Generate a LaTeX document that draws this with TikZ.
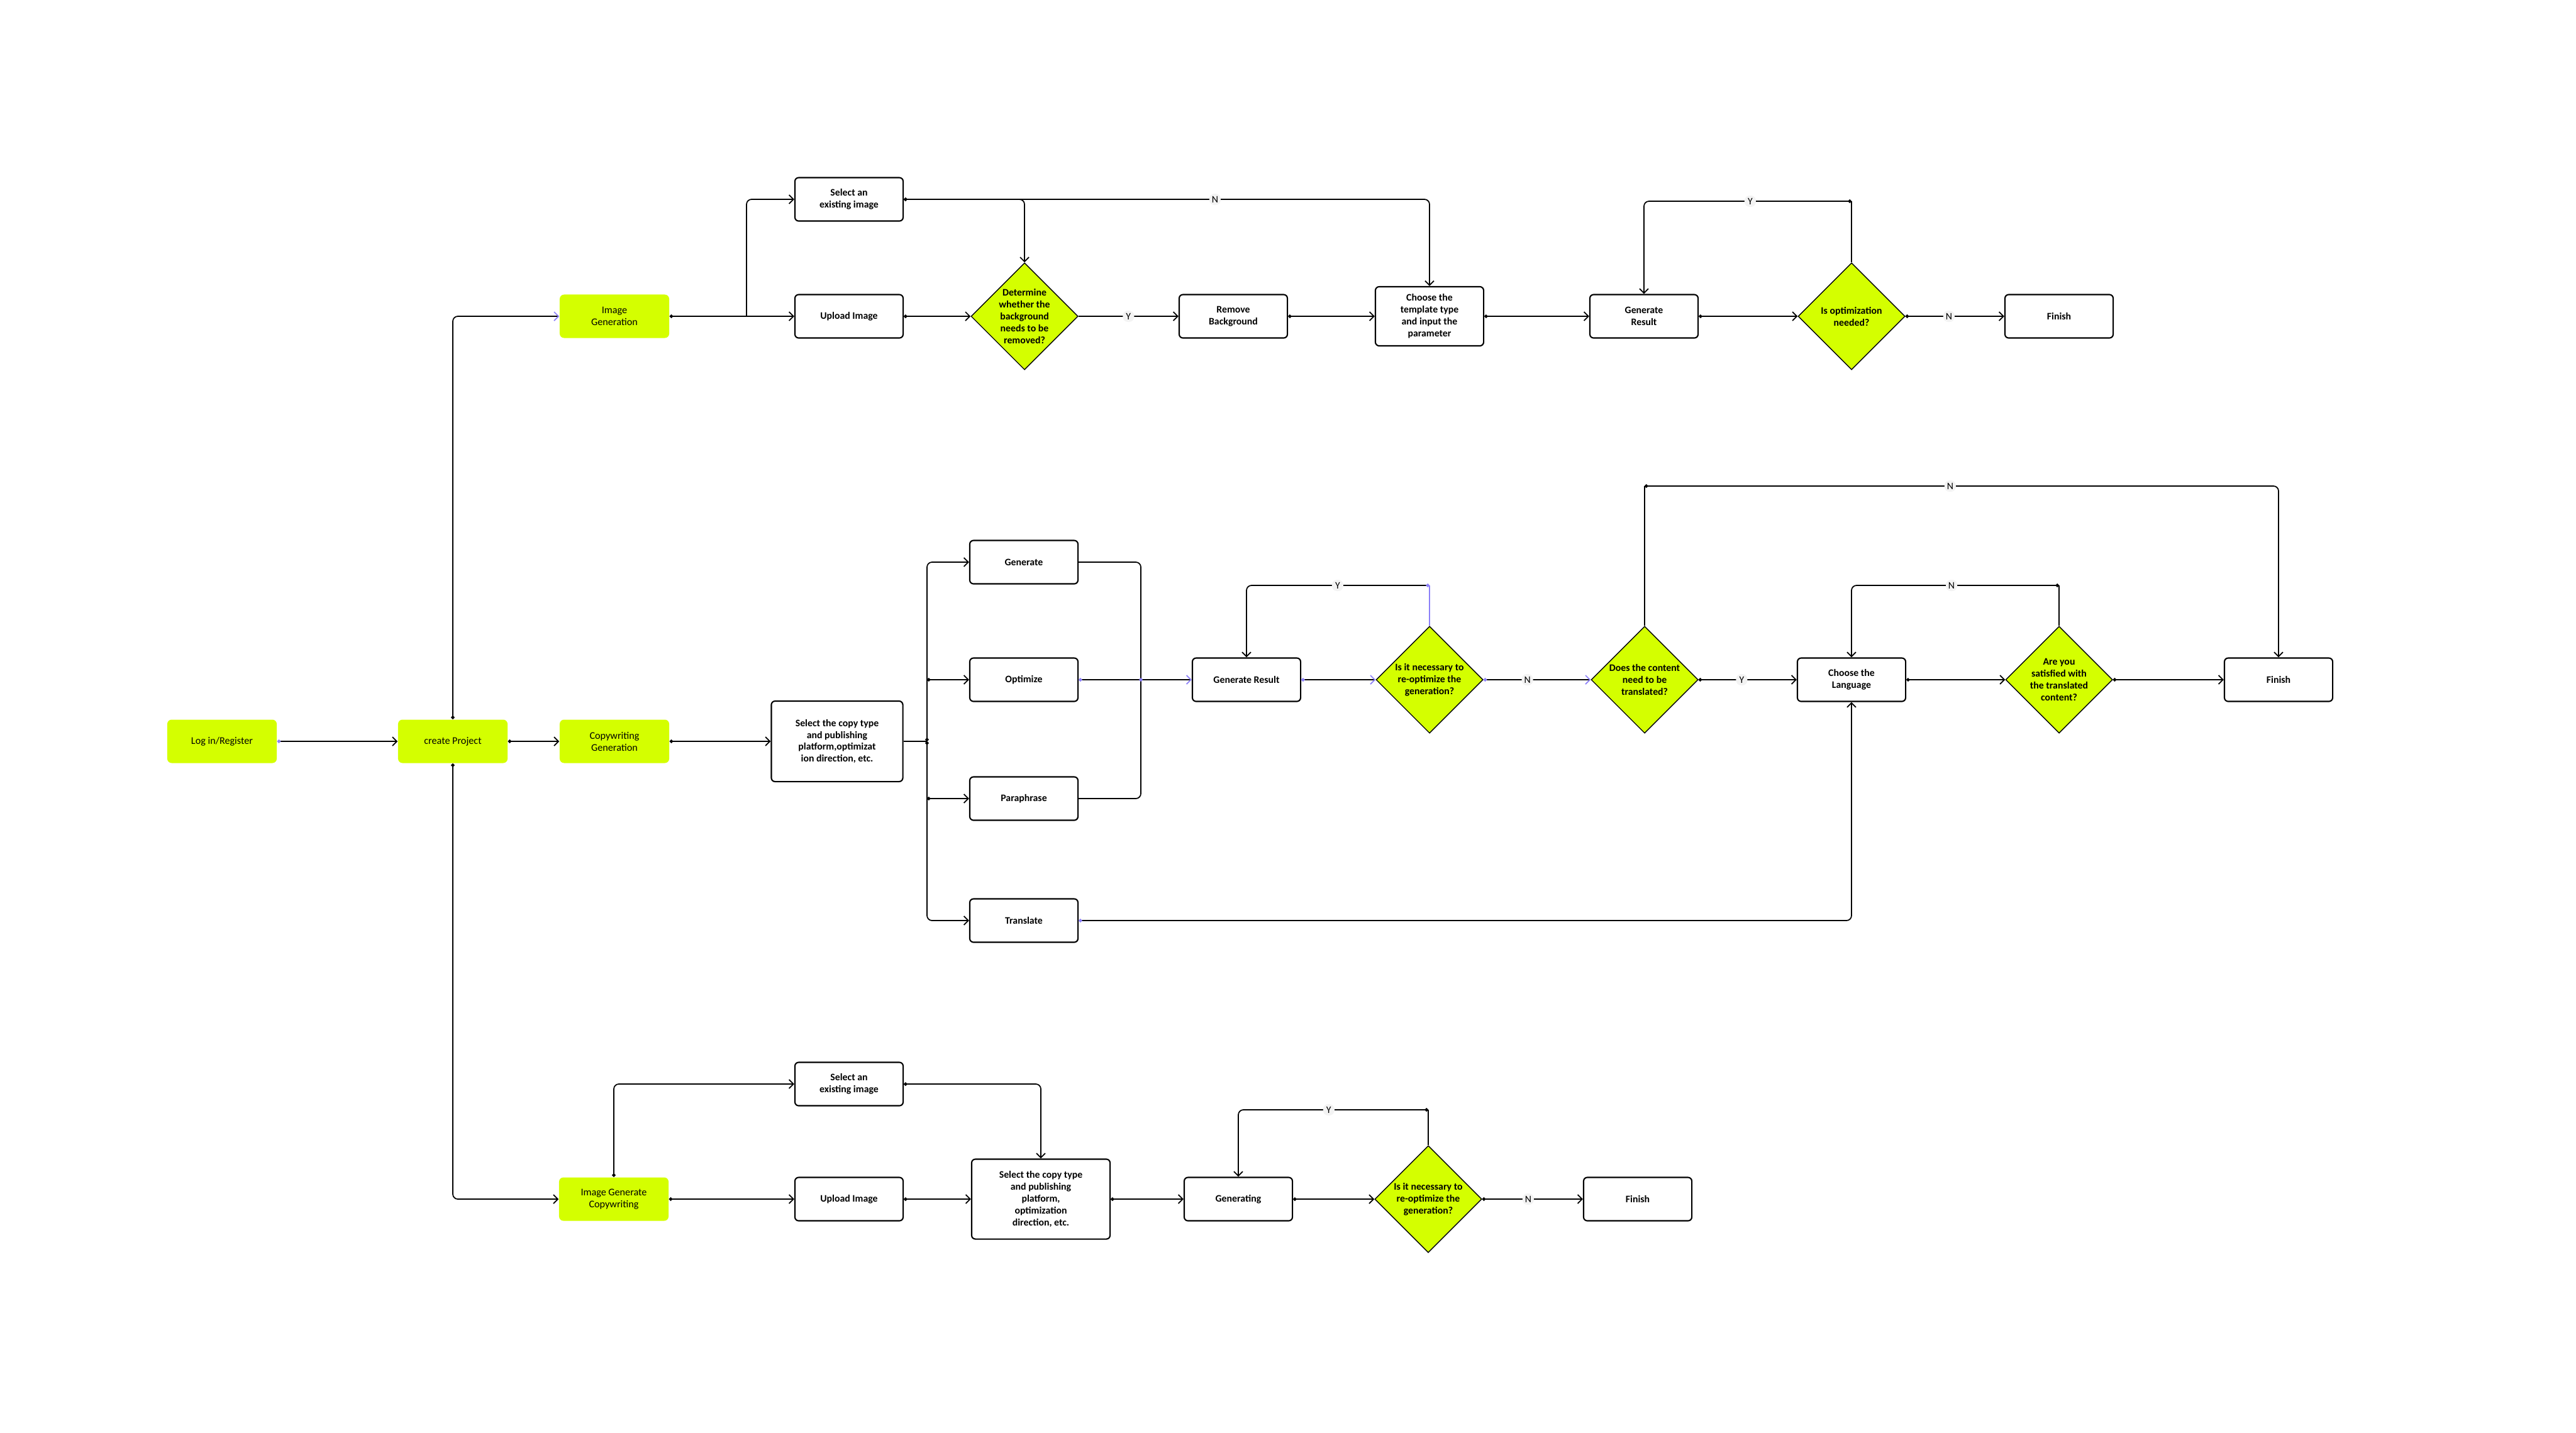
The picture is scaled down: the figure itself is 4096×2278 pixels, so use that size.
\documentclass[tikz,border=0pt]{standalone}
\usepackage{fontspec}
\setmainfont{Carlito}
\usetikzlibrary{arrows.meta,shapes.geometric,calc}
\definecolor{lime}{RGB}{212,255,0}
\definecolor{lav}{RGB}{140,128,248}
\definecolor{lblbg}{RGB}{243,243,243}
\tikzset{
  >={Straight Barb[length=0.07cm,width=0.14cm]},
  ln/.style={line width=0.5pt, rounded corners=0.08cm},
  conn/.style={ln, {Circle[length=0.055cm]}->},
  pdot/.style={ln, {Circle[length=0.055cm,color=lav]}->},
  parr/.style={ln, {Circle[length=0.055cm,color=lav]}-{Straight Barb[length=0.07cm,width=0.14cm,color=lav]}},
  thinln/.style={line width=0.35pt},
  box/.style={draw, line width=0.6pt, rounded corners=0.06cm, fill=white,
    minimum width=1.72cm, minimum height=0.69cm, align=center, inner sep=0pt,
    font=\fontsize{4.5}{5.4}\selectfont\bfseries},
  gbox/.style={fill=lime, rounded corners=0.07cm, minimum width=1.74cm,
    minimum height=0.69cm, align=center, inner sep=0pt,
    font=\fontsize{4.6}{5.4}\selectfont},
  dia/.style={diamond, draw, line width=0.4pt, fill=lime, aspect=1,
    minimum width=1.7cm, minimum height=1.7cm, inner sep=0pt},
  dtext/.style={align=center, inner sep=0pt, font=\fontsize{4.5}{5.4}\selectfont\bfseries},
  lbl/.style={fill=lblbg, inner sep=0.02cm, minimum width=0.18cm, minimum height=0.18cm,
    font=\fontsize{4.5}{5.4}\selectfont},
}
\begin{document}
\begin{tikzpicture}[x=0.01cm,y=-0.01cm]
\useasboundingbox (0,0) rectangle (4096,2278);

% ---- green start nodes
\node[gbox] (login) at (353,1179) {Log in/Register};
\node[gbox] (proj) at (720,1179) {create Project};
\node[gbox] (imggen) at (977,503) {Image\\Generation};
\node[gbox] (copygen) at (977,1179) {Copywriting\\Generation};
\node[gbox] (igc) at (976,1907) {Image Generate\\Copywriting};

% ---- top row
\node[box] (selA) at (1350,317) {Select an\\existing image};
\node[box] (upA) at (1350,503) {Upload Image};
\node[dia, label={[dtext]center:{Determine\\whether the\\background\\needs to be\\removed?}}] (dA) at (1629,503) {};
\node[box] (rmbg) at (1961,503) {Remove\\Background};
\node[box, minimum height=0.94cm] (tmpl) at (2273,503) {Choose the\\template type\\and input the\\parameter};
\node[box] (grA) at (2614,503) {Generate\\Result};
\node[dia, label={[dtext]center:{Is optimization\\needed?}}] (dB) at (2944,503) {};
\node[box] (finA) at (3274,503) {Finish};

% ---- middle row
\node[box, minimum width=2.09cm, minimum height=1.28cm] (selC) at (1331,1179) {Select the copy type\\and publishing\\platform,optimizat\\ion direction, etc.};
\node[box] (gen) at (1628,894) {Generate};
\node[box] (opt) at (1628,1081) {Optimize};
\node[box] (para) at (1628,1270) {Paraphrase};
\node[box] (trans) at (1628,1464) {Translate};
\node[box] (grB) at (1982,1081) {Generate Result};
\node[dia, label={[dtext]center:{Is it necessary to\\re-optimize the\\generation?}}] (dC) at (2273,1081) {};
\node[dia, label={[dtext]center:{Does the content\\need to be\\translated?}}] (dD) at (2615,1081) {};
\node[box] (lang) at (2944,1081) {Choose the\\Language};
\node[dia, label={[dtext]center:{Are you\\satisfied with\\the translated\\content?}}] (dE) at (3274,1081) {};
\node[box] (finB) at (3623,1081) {Finish};

% ---- bottom row
\node[box] (selB) at (1350,1724) {Select an\\existing image};
\node[box] (upB) at (1350,1907) {Upload Image};
\node[box, minimum width=2.2cm, minimum height=1.27cm] (selD) at (1655,1907) {Select the copy type\\and publishing\\platform,\\optimization\\direction, etc.};
\node[box] (gening) at (1969,1907) {Generating};
\node[dia, label={[dtext]center:{Is it necessary to\\re-optimize the\\generation?}}] (dF) at (2271,1907) {};
\node[box] (finC) at (2604,1907) {Finish};

% ---- helper coordinates
\coordinate (branchA) at (1187,503);
\coordinate (bus) at (1474,1179);
\coordinate (merge) at (1814,1081);
\coordinate (loopB) at (2944,320);
\coordinate (loopC) at (2273,931);
\coordinate (loopD) at (2615,773);
\coordinate (loopE) at (3274,931);
\coordinate (loopF) at (2271,1765);

% ---- start connectors
\draw[pdot] (login) -- (proj);
\draw[ln, {Circle[length=0.055cm]}-{Straight Barb[length=0.07cm,width=0.14cm,color=lav]}] (proj.north) |- (imggen.west);
\draw[conn] (proj) -- (copygen);
\draw[conn] (proj.south) |- (igc.west);

% ---- top row connectors
\draw[conn] (imggen) -- (upA);
\draw[ln, ->] (branchA) |- (selA.west);
\draw[conn] (upA) -- (dA);
\draw[conn] (selA.east) -| (dA.north);
\draw[conn] (selA.east) -| node[lbl, pos=0.296] {N} (tmpl.north);
\draw[ln, ->] (dA) -- node[lbl] {Y} (rmbg);
\draw[conn] (rmbg) -- (tmpl);
\draw[conn] (tmpl) -- (grA);
\draw[conn] (grA) -- (dB);
\draw[thinln] (dB.north) -- (loopB);
\draw[conn] (loopB) -| node[lbl, pos=0.244] {Y} (grA.north);
\draw[conn] (dB) -- node[lbl, pos=0.44] {N} (finA);

% ---- middle row connectors
\draw[conn] (copygen) -- (selC);
\draw[ln] (selC.east) -- (bus);
\draw[conn] (bus) |- (gen.west);
\draw[conn] (bus) |- (trans.west);
\draw[conn] (bus |- opt.west) -- (opt.west);
\draw[conn] (bus |- para.west) -- (para.west);
\draw[ln] (gen.east) -| (merge) |- (para.east);
\draw[parr] (opt) -- (grB);
\fill[lav] (merge) circle (0.027cm);
\draw[parr] (grB) -- (dC);
\draw[thinln, lav] (dC.north) -- (loopC);
\draw[pdot] (loopC) -| node[lbl, pos=0.251] {Y} (grB.north);
\draw[parr] (dC) -- node[lbl, pos=0.41] {N} (dD);
\draw[conn] (dD) -- node[lbl, pos=0.44] {Y} (lang);
\draw[thinln] (dD.north) -- (loopD);
\draw[conn] (loopD) -| node[lbl, pos=0.241] {N} (finB.north);
\draw[conn] (lang) -- (dE);
\draw[thinln] (dE.north) -- (loopE);
\draw[conn] (loopE) -| node[lbl, pos=0.259] {N} (lang.north);
\draw[conn] (dE) -- (finB);
\draw[pdot] (trans.east) -| (lang.south);

% ---- bottom row connectors
\draw[conn] (igc.north) |- (selB.west);
\draw[conn] (igc) -- (upB);
\draw[conn] (selB.east) -| (selD.north);
\draw[conn] (upB) -- (selD);
\draw[conn] (selD) -- (gening);
\draw[conn] (gening) -- (dF);
\draw[thinln] (dF.north) -- (loopF);
\draw[conn] (loopF) -| node[lbl, pos=0.262] {Y} (gening.north);
\draw[conn] (dF) -- node[lbl, pos=0.457] {N} (finC);
\end{tikzpicture}
\end{document}
